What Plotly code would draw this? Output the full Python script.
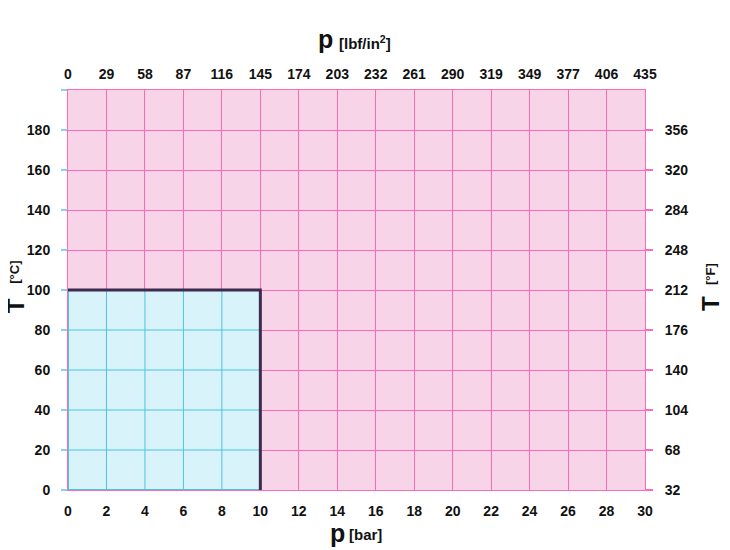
import plotly.graph_objects as go

# ---- data ----
bar_ticks = [0, 2, 4, 6, 8, 10, 12, 14, 16, 18, 20, 22, 24, 26, 28, 30]
psi_labels = ["0", "29", "58", "87", "116", "145", "174", "203", "232", "261",
              "290", "319", "349", "377", "406", "435"]
celsius_ticks = [0, 20, 40, 60, 80, 100, 120, 140, 160, 180]
celsius_labels = ["0", "20", "40", "60", "80", "100", "120", "140", "160", "180"]
celsius_extra_tick = [200]
fahrenheit_ticks = [0, 20, 40, 60, 80, 100, 120, 140, 160, 180]
fahrenheit_labels = ["32", "68", "104", "140", "176", "212", "248", "284", "320", "356"]
p_range = [0, 30]          # bar
t_range = [0, 200]         # °C
p_limit = 10               # bar  (max operating pressure)
t_limit = 100              # °C   (max operating temperature)

# ---- styles ----
PINK_BG = "#f8d4e8"
PINK_GRID = "#ff6ab8"
CYAN_BG = "#d9f3fa"
CYAN_GRID = "#4cc4dd"
CYAN_TICK = "#86d4ec"
DARK = "#3d2b50"
FONT = "Liberation Sans"

fig = go.Figure()

# operating region (cyan)
fig.add_trace(go.Scatter(
    x=[0, p_limit, p_limit, 0, 0], y=[0, 0, t_limit, t_limit, 0],
    fill="toself", fillcolor=CYAN_BG, mode="lines",
    line=dict(color=CYAN_GRID, width=2), hoverinfo="skip", showlegend=False))

# cyan grid inside operating region
gx, gy = [], []
for p in bar_ticks:
    if p <= p_limit:
        gx += [p, p, None]
        gy += [0, t_limit, None]
for t in celsius_ticks:
    if t <= t_limit:
        gx += [0, p_limit, None]
        gy += [t, t, None]
fig.add_trace(go.Scatter(x=gx, y=gy, mode="lines",
                         line=dict(color=CYAN_GRID, width=1),
                         hoverinfo="skip", showlegend=False))

# limit boundary
fig.add_trace(go.Scatter(x=[0, p_limit, p_limit], y=[t_limit, t_limit, 0],
                         mode="lines", line=dict(color=DARK, width=3),
                         hoverinfo="skip", showlegend=False))

# invisible traces for secondary axes
fig.add_trace(go.Scatter(x=p_range, y=t_range, xaxis="x2", yaxis="y2",
                         mode="markers", marker=dict(opacity=0),
                         hoverinfo="skip", showlegend=False))

tickfont = dict(family=FONT, size=14, color="#111111", weight="bold")

fig.update_layout(
    width=722, height=542,
    margin=dict(l=60, r=85, t=82, b=60),
    paper_bgcolor="white", plot_bgcolor=PINK_BG,
    font=dict(family=FONT),
    xaxis=dict(range=p_range, tickvals=bar_ticks, ticktext=[str(v) for v in bar_ticks],
               showgrid=True, gridcolor=PINK_GRID, gridwidth=1, zeroline=False,
               showline=True, linecolor=PINK_GRID, linewidth=1, mirror=True,
               ticks="outside", ticklen=8, tickcolor="rgba(0,0,0,0)",
               tickfont=tickfont, layer="below traces", fixedrange=True),
    xaxis2=dict(range=p_range, overlaying="x", side="top", tickvals=bar_ticks,
                ticktext=psi_labels, showgrid=False, zeroline=False,
                ticks="outside", ticklen=4, tickcolor="rgba(0,0,0,0)",
                tickfont=tickfont, fixedrange=True),
    yaxis=dict(range=t_range, tickvals=celsius_ticks, ticktext=celsius_labels,
               showgrid=True, gridcolor=PINK_GRID, gridwidth=1, zeroline=False,
               showline=True, linecolor=PINK_GRID, linewidth=1, mirror=True,
               ticks="outside", ticklen=6, tickcolor=CYAN_TICK, tickwidth=1.5,
               ticklabelstandoff=8,
               minor=dict(tickvals=celsius_extra_tick, ticks="outside", ticklen=6,
                          tickcolor=CYAN_TICK, tickwidth=1.5, showgrid=False),
               tickfont=tickfont, layer="below traces", fixedrange=True),
    yaxis2=dict(range=t_range, overlaying="y", side="right", tickvals=fahrenheit_ticks,
                ticktext=fahrenheit_labels, showgrid=False, zeroline=False,
                ticks="outside", ticklen=7, tickcolor=PINK_GRID, tickwidth=1.5,
                ticklabelstandoff=9,
                tickfont=tickfont, fixedrange=True),
)


def label(text, x, y, size, xanchor="center", yanchor="middle", angle=0):
    fig.add_annotation(xref="paper", yref="paper", x=x, y=y, text=text,
                       xanchor=xanchor, yanchor=yanchor, textangle=angle,
                       showarrow=False, borderpad=0, borderwidth=0,
                       font=dict(family=FONT, color="#111111", size=size, weight="bold"))


# bottom axis title
label("p", 0.4809, -0.1075, 25, xanchor="right")
label("[bar]", 0.4870, -0.1118, 15, xanchor="left")
# top axis title
label("p", 0.4601, 1.1268, 25, xanchor="right")
label("[lbf/in<sup>2</sup>]", 0.4697, 1.1183, 15, xanchor="left")
# left axis title
label("T", -0.0915, 0.46, 24, angle=-90)
label("[°C]", -0.0941, 0.545, 13, angle=-90)
# right axis title
label("T", 1.1127, 0.465, 24, angle=-90)
label("[°F]", 1.1135, 0.541, 13, angle=-90)

fig.write_html("out.html")
